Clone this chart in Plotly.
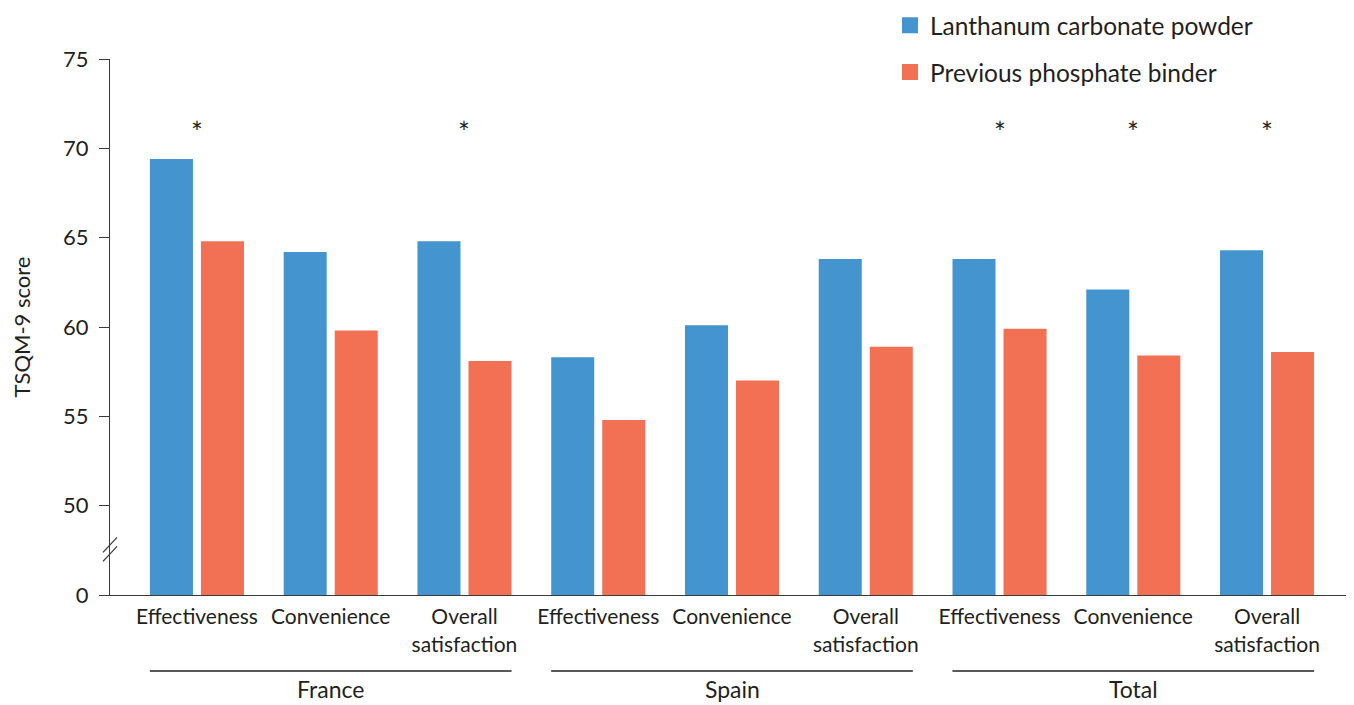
import plotly.graph_objects as go

# ---- data ----
categories = ["Effectiveness", "Convenience", "Overall<br>satisfaction",
              "Effectiveness", "Convenience", "Overall<br>satisfaction",
              "Effectiveness", "Convenience", "Overall<br>satisfaction"]
groups = ["France", "Spain", "Total"]
group_size = 3
lanthanum = [69.4, 64.2, 64.8, 58.3, 60.1, 63.8, 63.8, 62.1, 64.3]
previous = [64.8, 59.8, 58.1, 54.8, 57.0, 58.9, 59.9, 58.4, 58.6]
significant = [True, False, True, False, False, False, True, True, True]
series_names = ["Lanthanum carbonate powder", "Previous phosphate binder"]
y_tick_labels = ["0", "50", "55", "60", "65", "70", "75"]

# ---- style ----
BLUE = "#4495CF"
ORANGE = "#F27154"
TEXT = "#231F20"
AXIS = "#3a3a3a"
FONT = "Lato"

# page body has an 8px margin; size the figure so it fills the window
W, H = 1346, 697
L, R, T, B = 102, 0, 51, 110

xpos = list(range(len(categories)))
Y_BREAK = 45  # axis position shown as "0"
y_tick_vals = [Y_BREAK, 50, 55, 60, 65, 70, 75]

fig = go.Figure()
fig.add_trace(go.Bar(x=xpos, y=lanthanum, name=series_names[0],
                     marker=dict(color=BLUE, line=dict(width=0)),
                     showlegend=False))
fig.add_trace(go.Bar(x=xpos, y=previous, name=series_names[1],
                     marker=dict(color=ORANGE, line=dict(width=0)),
                     showlegend=False))
# legend entries (square markers)
for i, (nm, col) in enumerate(zip(series_names, [BLUE, ORANGE])):
    fig.add_trace(go.Scatter(x=[None], y=[None], mode="markers", name=nm,
                             legendgroup=f"g{i}",
                             marker=dict(symbol="square", size=16, color=col)))

shapes = []
annotations = []
# group underline + labels
half = 0.352
for gi, g in enumerate(groups):
    a = gi * group_size
    b = a + group_size - 1
    shapes.append(dict(type="line", xref="x", yref="paper",
                       x0=a - half, x1=b + half, y0=-0.1418, y1=-0.1418,
                       line=dict(color=TEXT, width=1.5)))
    annotations.append(dict(xref="x", yref="paper", x=(a + b) / 2, y=-0.1754,
                            text=g, showarrow=False, yanchor="middle",
                            font=dict(family=FONT, size=23, color=TEXT)))
# significance asterisks
for i, s in enumerate(significant):
    if s:
        annotations.append(dict(xref="x", yref="y", x=xpos[i], y=70.9,
                                text="*", showarrow=False, yanchor="middle",
                                font=dict(family=FONT, size=28, color=TEXT)))
# axis break marks
for y0, y1 in [(-2, 13), (-11, 4)]:
    shapes.append(dict(type="line", xref="paper", yref="y",
                       xsizemode="pixel", ysizemode="pixel",
                       xanchor=0, yanchor=47.5,
                       x0=-7, x1=7, y0=y0, y1=y1,
                       line=dict(color=AXIS, width=1.3)))

fig.update_layout(
    width=W, height=H,
    margin=dict(l=L, r=R, t=T, b=B, autoexpand=False),
    paper_bgcolor="white", plot_bgcolor="white",
    barmode="group", bargap=0.237, bargroupgap=0.157,
    font=dict(family=FONT, size=21, color=TEXT),
    showlegend=True,
    legend=dict(x=0.627, y=1.105, xanchor="left", yanchor="top",
                font=dict(family=FONT, size=24.5, color=TEXT),
                tracegroupgap=12, bgcolor="rgba(0,0,0,0)",
                itemclick=False),
    shapes=shapes,
    annotations=annotations,
)
fig.update_xaxes(range=[-0.65, 8.65], tickvals=xpos, ticktext=categories,
                 showline=True, linecolor=AXIS, linewidth=1.3,
                 ticks="", showgrid=False, zeroline=False,
                 ticklabelstandoff=3,
                 tickfont=dict(family=FONT, size=21, color=TEXT),
                 fixedrange=True)
fig.update_yaxes(range=[Y_BREAK, 75], tickvals=y_tick_vals, ticktext=y_tick_labels,
                 showline=True, linecolor=AXIS, linewidth=1.3,
                 ticks="outside", ticklen=10, tickcolor=AXIS, tickwidth=1.3,
                 ticklabelstandoff=6,
                 showgrid=False, zeroline=False,
                 tickfont=dict(family=FONT, size=22, color=TEXT),
                 title=dict(text="TSQM-9 score", standoff=26,
                            font=dict(family=FONT, size=22, color=TEXT)),
                 fixedrange=True)

fig.write_html("out.html")
